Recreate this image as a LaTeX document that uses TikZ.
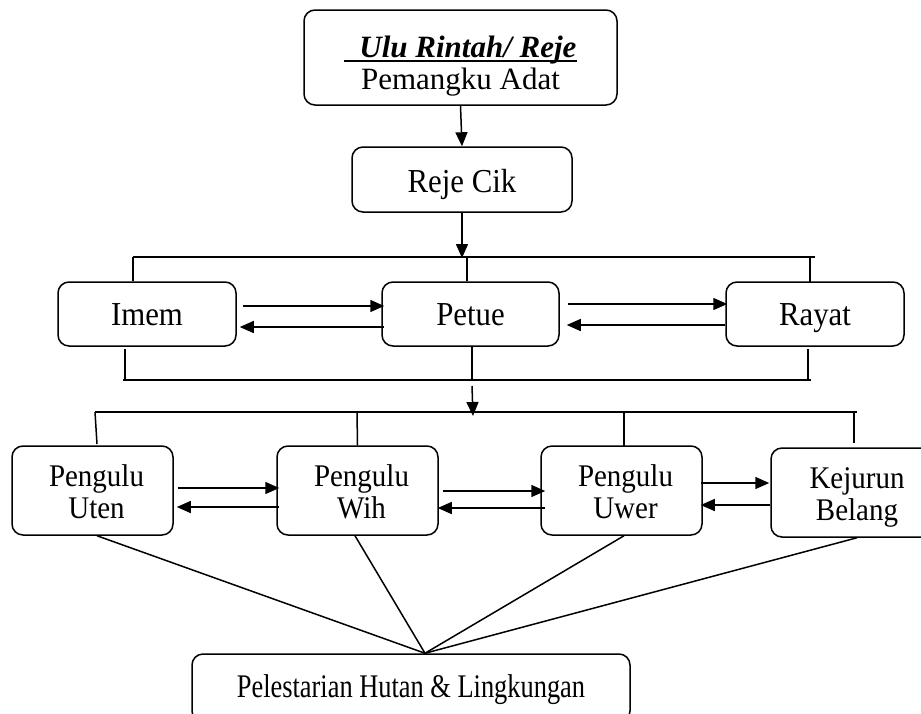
\documentclass[tikz,border=0pt]{standalone}
\usepackage{fontspec}
\setmainfont{Liberation Serif}
\newfontfamily\narrowserif[FakeStretch=0.8]{Liberation Serif}
\newfontfamily\condserif[FakeStretch=0.92]{Liberation Serif}
\usetikzlibrary{arrows.meta,calc,positioning}

% struts for the two-line boxes
\newcommand{\topstrut}[1]{\rule{0pt}{#1}}
\newcommand{\botstrut}{\rule[-7pt]{0pt}{7pt}}
\newcommand{\ulthick}[1]{\setbox0\hbox{#1}\rlap{\rule[-4.5pt]{\wd0}{2pt}}\box0}

\tikzset{
  box/.style={draw, line width=1.5pt, rounded corners=11pt, align=center,
    inner sep=0pt, font=\condserif\fontsize{33.5}{32}\selectfont},
  onebox/.style={box, text height=30pt, text depth=8pt},
  smallbox/.style={box, font=\condserif\fontsize{31.5}{32}\selectfont,
    minimum width=161pt, minimum height=89pt},
  arr/.style={line width=1.5pt, -{Triangle[length=14pt,width=12pt]}},
  ln/.style={line width=1.5pt}
}

\begin{document}
\begin{tikzpicture}[x=1pt, y=-1pt]
  \useasboundingbox (0,0) rectangle (921,713);

  % top of the hierarchy
  \node[box, font=\rmfamily\fontsize{31}{32}\selectfont, minimum width=313pt, minimum height=95pt]
    (ulu) at (460.5,57.5)
    {\topstrut{38pt}\textbf{\textit{\ulthick{\hspace{15pt}Ulu Rintah/ Reje}}}\\Pemangku Adat\botstrut};
  \node[box, text height=32pt, text depth=7pt, minimum width=220pt, minimum height=65pt]
    (rejecik) at (462,179.5) {Reje Cik};

  % second row
  \node[onebox, minimum width=178pt, minimum height=64pt] (imem) at (147,314) {Imem};
  \node[onebox, minimum width=177pt, minimum height=64pt] (petue) at (470.5,314) {Petue};
  \node[onebox, minimum width=178pt, minimum height=64pt] (rayat) at (815,314) {Rayat};

  % third row
  \node[smallbox] (uten) at (92.5,490.5) {\topstrut{31pt}\hspace{8pt}Pengulu\\\hspace{8pt}Uten\botstrut};
  \node[smallbox] (wih) at (357.5,490.5) {\topstrut{31pt}\hspace{8pt}Pengulu\\\hspace{8pt}Wih\botstrut};
  \node[smallbox] (uwer) at (621.5,490.5) {\topstrut{31pt}\hspace{8pt}Pengulu\\\hspace{8pt}Uwer\botstrut};
  \node[smallbox, minimum width=172pt] (kejurun) at (857,492.5) {\topstrut{31pt}Kejurun\\Belang\botstrut};

  \node[box, font=\narrowserif\fontsize{33}{36}\selectfont, text height=26pt, text depth=8pt,
    minimum width=438pt, minimum height=68pt]
    (pelestarian) at (411,688) {Pelestarian Hutan \& Lingkungan};

  % bars
  \coordinate (barAl) at (133,257);
  \coordinate (barAr) at (815,257);
  \coordinate (barBl) at (123,380);
  \coordinate (barBr) at (811,380);
  \coordinate (barCl) at (95,412);
  \coordinate (barCr) at (857,412);
  \coordinate (apex) at ([xshift=14pt]pelestarian.north);

  \draw[arr] (ulu.south) -- (rejecik.north);
  \draw[arr] (rejecik.south) -- ([yshift=-1pt]rejecik.south |- barAl);

  \draw[ln] (barAl) -- (barAr);
  \draw[ln] (barAl) -- (barAl |- imem.north);
  \draw[ln] ([xshift=-3.5pt]petue.north |- barAl) -- ([xshift=-3.5pt]petue.north);
  \draw[ln] (810,257) -- (810,282);

  \draw[arr] ([xshift=6pt,yshift=8pt]imem.east) -- ([xshift=3pt,yshift=8pt]petue.west);
  \draw[arr] ([xshift=3pt,yshift=-13pt]petue.west) -- ([xshift=3pt,yshift=-13pt]imem.east);
  \draw[arr] ([xshift=8pt,yshift=10pt]petue.east) -- ([xshift=2pt,yshift=10pt]rayat.west);
  \draw[arr] ([yshift=-11pt]rayat.west) -- ([xshift=7pt,yshift=-11pt]petue.east);

  \draw[ln] (barBl) -- (barBr);
  \draw[ln] (125,349) -- (125,380);
  \draw[ln] ([xshift=1.5pt]petue.south) -- ([xshift=1.5pt]petue.south |- barBl);
  \draw[ln] (808,349) -- (808,380);
  \draw[arr] (472,386) -- (473,416);

  \draw[ln] (barCl) -- (barCr);
  \draw[ln] (barCl) -- (97,444);
  \draw[ln] (357,412) -- (wih.north);
  \draw[ln] (624,412) -- (624,446);
  \draw[ln] (854,412) -- (854,443);

  \draw[arr] ([xshift=4pt,yshift=2.5pt]uten.east) -- ([xshift=3pt,yshift=2.5pt]wih.west);
  \draw[arr] ([xshift=3pt,yshift=-16.5pt]wih.west) -- ([xshift=3pt,yshift=-16.5pt]uten.east);
  \draw[arr] ([xshift=4pt,yshift=-0.5pt]wih.east) -- ([xshift=5pt,yshift=-0.5pt]uwer.west);
  \draw[arr] ([xshift=5pt,yshift=-17.5pt]uwer.west) -- ([xshift=-1pt,yshift=-17.5pt]wih.east);
  \draw[arr] ([xshift=-2pt,yshift=7.5pt]uwer.east) -- ([xshift=-1pt,yshift=9.5pt]kejurun.west);
  \draw[arr] ([yshift=-12.5pt]kejurun.west) -- ([xshift=-2pt,yshift=-14.5pt]uwer.east);

  % lines down to the bottom box
  \draw[ln] ([xshift=4.5pt]uten.south) -- (apex);
  \draw[ln] ([xshift=-2.5pt]wih.south) -- (apex);
  \draw[ln] ([xshift=2.5pt]uwer.south) -- (apex);
  \draw[ln] (kejurun.south) -- (apex);
\end{tikzpicture}
\end{document}
